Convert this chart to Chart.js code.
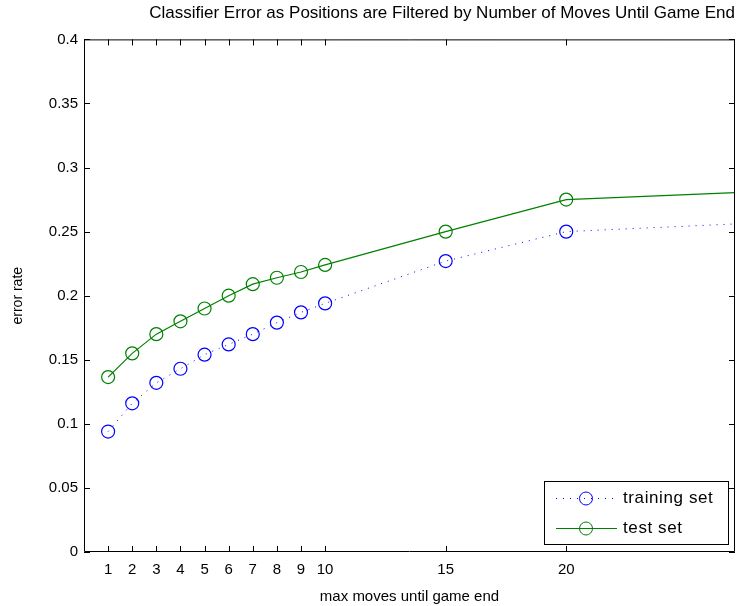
<!DOCTYPE html>
<html>
<head>
<meta charset="utf-8">
<script src="https://cdn.jsdelivr.net/npm/chart.js@4"></script>
<style>
  html, body { margin: 0; padding: 0; background: #fff; }
  canvas { display: block; }
</style>
</head>
<body>
<canvas id="errorChart" width="746" height="606"></canvas>
<script>
// values
const moves = [1, 2, 3, 4, 5, 6, 7, 8, 9, 10, 15, 20, 27];
const trainingError = [0.094, 0.116, 0.132, 0.143, 0.154, 0.162, 0.170, 0.179, 0.187, 0.194, 0.227, 0.250, 0.256];
const testError = [0.1365, 0.155, 0.170, 0.180, 0.190, 0.200, 0.209, 0.214, 0.2185, 0.224, 0.250, 0.275, 0.2805];
const xTicks = [1, 2, 3, 4, 5, 6, 7, 8, 9, 10, 15, 20];
const seriesNames = ['training set', 'test set'];

const FONT = '"Liberation Sans", Arial, sans-serif';

function toPoints(ys) {
    return moves.map((m, i) => ({ x: m, y: ys[i] }));
}

// last point sits on the right edge, no marker there
const markerRadius = moves.map((m, i) => i === moves.length - 1 ? 0 : 6.5);

// MATLAB-like box with inward ticks on all sides
const boxTicks = {
    id: 'boxTicks',
    afterDatasetsDraw(chart) {
        const { ctx, chartArea: a, scales } = chart;
        const len = 6;
        ctx.save();
        ctx.strokeStyle = '#000';
        ctx.lineWidth = 1;
        ctx.beginPath();
        ctx.rect(a.left + 0.5, a.top + 0.5, a.right - a.left - 1, a.bottom - a.top - 1);
        scales.x.ticks.forEach(t => {
            const px = Math.round(scales.x.getPixelForValue(t.value)) + 0.5;
            ctx.moveTo(px, a.bottom);
            ctx.lineTo(px, a.bottom - len);
            ctx.moveTo(px, a.top);
            ctx.lineTo(px, a.top + len);
        });
        scales.y.ticks.forEach(t => {
            const py = Math.round(scales.y.getPixelForValue(t.value)) + 0.5;
            ctx.moveTo(a.left, py);
            ctx.lineTo(a.left + len, py);
            ctx.moveTo(a.right, py);
            ctx.lineTo(a.right - len, py);
        });
        ctx.stroke();
        ctx.restore();
    }
};

// legend drawn inside the plot, bottom right
const boxLegend = {
    id: 'boxLegend',
    afterDraw(chart) {
        const { ctx, chartArea: a } = chart;
        const w = 184, h = 63;
        const left = a.right - 7 - w, top = a.bottom - 8 - h;
        ctx.save();
        ctx.fillStyle = '#fff';
        ctx.fillRect(left, top, w, h);
        ctx.strokeStyle = '#000';
        ctx.lineWidth = 1;
        ctx.strokeRect(left + 0.5, top + 0.5, w, h);
        chart.data.datasets.forEach((ds, i) => {
            const y = top + 17.5 + i * 30;
            ctx.strokeStyle = ds.borderColor;
            ctx.setLineDash(ds.borderDash || []);
            ctx.beginPath();
            ctx.moveTo(left + 12, y);
            ctx.lineTo(left + 73, y);
            ctx.stroke();
            ctx.setLineDash([]);
            ctx.beginPath();
            ctx.arc(left + 42, y, 6.5, 0, Math.PI * 2);
            ctx.stroke();
            ctx.fillStyle = '#000';
            ctx.font = '17px ' + FONT;
            ctx.letterSpacing = '0.6px';
            ctx.textBaseline = 'middle';
            ctx.fillText(ds.label, left + 79, y);
        });
        ctx.restore();
    }
};

const ctx = document.getElementById('errorChart').getContext('2d');
const errorChart = new Chart(ctx, {
    type: 'line',
    data: {
        datasets: [{
            label: seriesNames[0],
            data: toPoints(trainingError),
            borderColor: '#0000ff',
            borderWidth: 1,
            borderDash: [1, 6],
            pointRadius: markerRadius,
            pointBorderColor: '#0000ff',
            pointBackgroundColor: 'rgba(0,0,0,0)',
            pointBorderWidth: 1.2,
            tension: 0
        }, {
            label: seriesNames[1],
            data: toPoints(testError),
            borderColor: '#008000',
            borderWidth: 1.2,
            pointRadius: markerRadius,
            pointBorderColor: '#008000',
            pointBackgroundColor: 'rgba(0,0,0,0)',
            pointBorderWidth: 1.2,
            tension: 0
        }]
    },
    options: {
        responsive: false,
        animation: false,
        devicePixelRatio: 1,
        layout: { padding: { left: 0, right: 11, top: 0, bottom: 0 } },
        plugins: {
            legend: { display: false },
            tooltip: { enabled: false },
            title: {
                display: true,
                align: 'end',
                text: 'Classifier Error as Positions are Filtered by Number of Moves Until Game End',
                color: '#000',
                font: { family: FONT, size: 17, weight: 'normal' },
                padding: { top: 3, bottom: 16 }
            }
        },
        scales: {
            x: {
                type: 'linear',
                min: 0,
                max: 27,
                afterBuildTicks: scale => { scale.ticks = xTicks.map(v => ({ value: v })); },
                afterFit: scale => { scale.height = 54; },
                grid: { display: false, drawTicks: false },
                border: { display: false },
                ticks: {
                    color: '#000',
                    padding: 9,
                    maxRotation: 0,
                    autoSkip: false,
                    font: { family: FONT, size: 15 }
                },
                title: {
                    display: true,
                    text: 'max moves until game end',
                    color: '#000',
                    font: { family: FONT, size: 15 },
                    padding: { top: 1, bottom: 0 }
                }
            },
            y: {
                min: 0,
                max: 0.4,
                afterFit: scale => { scale.width = 84; },
                grid: { display: false, drawTicks: false },
                border: { display: false },
                ticks: {
                    stepSize: 0.05,
                    color: '#000',
                    padding: 6,
                    font: { family: FONT, size: 15 },
                    callback: v => String(+v.toFixed(2))
                },
                title: {
                    display: true,
                    text: 'error rate',
                    color: '#000',
                    font: { family: FONT, size: 14 },
                    padding: { top: 10, bottom: 0 }
                }
            }
        }
    },
    plugins: [boxTicks, boxLegend]
});
</script>
</body>
</html>
